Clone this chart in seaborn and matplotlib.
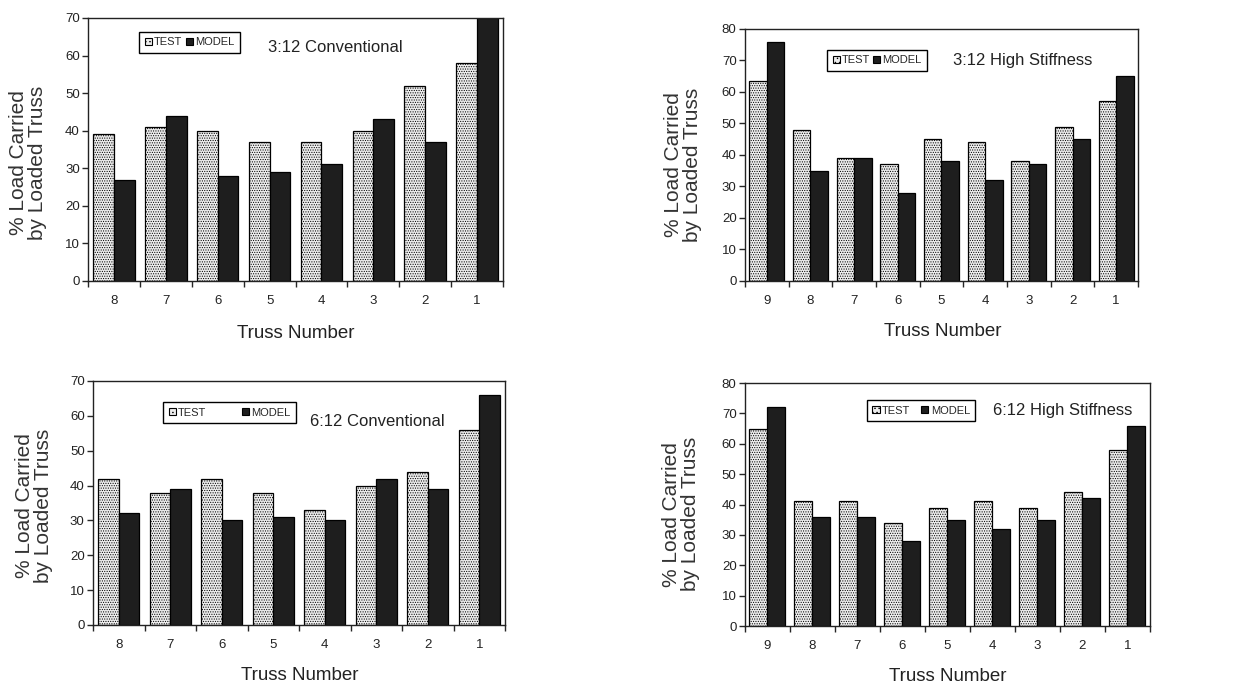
import numpy as np
import pandas as pd
import matplotlib
matplotlib.use("Agg")
import matplotlib.pyplot as plt
from matplotlib.patches import Patch
import seaborn as sns

# ---------------- data ----------------
trusses_8 = ["8", "7", "6", "5", "4", "3", "2", "1"]
trusses_9 = ["9", "8", "7", "6", "5", "4", "3", "2", "1"]

c312_test = [39, 41, 40, 37, 37, 40, 52, 58]
c312_model = [27, 44, 28, 29, 31, 43, 37, 70]

h312_test = [63.5, 48, 39, 37, 45, 44, 38, 49, 57]
h312_model = [76, 35, 39, 28, 38, 32, 37, 45, 65]

c612_test = [42, 38, 42, 38, 33, 40, 44, 56]
c612_model = [32, 39, 30, 31, 30, 42, 39, 66]

h612_test = [65, 41, 41, 34, 39, 41, 39, 44, 58]
h612_model = [72, 36, 36, 28, 35, 32, 35, 42, 66]

series_names = ["TEST", "MODEL"]
panel_titles = ["3:12 Conventional", "3:12 High Stiffness",
                "6:12 Conventional", "6:12 High Stiffness"]
y_maxes = [70, 80, 70, 80]
x_label = "Truss Number"
y_label = "% Load Carried\nby Loaded Truss"

sns.set_style("ticks")
plt.rcParams["font.family"] = ["Liberation Sans", "DejaVu Sans"]
plt.rcParams["hatch.linewidth"] = 0.5

TEST_FACE = "#ececec"
MODEL_FACE = "#1e1e1e"
HATCH_COL = "#a8a8a8"

fig = plt.figure(figsize=(12.47, 6.85), dpi=100)

panels = [
    dict(cats=trusses_8, test=c312_test, model=c312_model,
         rect=[0.0706, 0.5898, 0.3328, 0.384],
         leg=(0.123, 0.947), colsp=0.3, txt=(0.434, 0.886),
         ylc=(-0.099, 0.45), xlc=(0.5, -0.167)),
    dict(cats=trusses_9, test=h312_test, model=h312_model,
         rect=[0.5974, 0.5898, 0.3152, 0.3679],
         leg=(0.209, 0.917), colsp=0.2, txt=(0.529, 0.873),
         ylc=(-0.109, 0.46), xlc=(0.504, -0.167)),
    dict(cats=trusses_8, test=c612_test, model=c612_model,
         rect=[0.0746, 0.0876, 0.3304, 0.3562],
         leg=(0.170, 0.914), colsp=3.2, txt=(0.527, 0.836),
         ylc=(-0.097, 0.488), xlc=(0.502, -0.172)),
    dict(cats=trusses_9, test=h612_test, model=h612_model,
         rect=[0.5974, 0.0861, 0.3248, 0.3547],
         leg=(0.301, 0.930), colsp=1.0, txt=(0.612, 0.889),
         ylc=(-0.111, 0.46), xlc=(0.50, -0.173)),
]

for i, p in enumerate(panels):
    ax = fig.add_axes(p["rect"])
    n = len(p["cats"])
    df = pd.DataFrame({
        "truss": p["cats"] * 2,
        "value": list(p["test"]) + list(p["model"]),
        "series": [series_names[0]] * n + [series_names[1]] * n,
    })
    sns.barplot(data=df, x="truss", y="value", hue="series",
                order=p["cats"], hue_order=series_names,
                palette=[TEST_FACE, MODEL_FACE], width=0.8,
                edgecolor="black", linewidth=0.9, legend=False,
                saturation=1, ax=ax)
    for bar in ax.containers[0]:
        bar.set_hatch(".......")
        try:
            bar.set_hatchcolor(HATCH_COL)
        except Exception:
            pass
    ax.set_xlim(-0.5, n - 0.5)
    ax.set_ylim(0, y_maxes[i])
    ax.set_yticks(np.arange(0, y_maxes[i] + 1, 10))
    ax.set_xticks(np.arange(n))
    ax.set_xticks(np.arange(n + 1) - 0.5, minor=True)
    ax.tick_params(axis="x", which="major", length=0, pad=10)
    ax.tick_params(axis="x", which="minor", length=4, width=1, direction="out")
    ax.tick_params(axis="y", length=4, width=1, direction="out", pad=2)
    for lab in ax.get_xticklabels() + ax.get_yticklabels():
        lab.set_fontsize(9.5)
        lab.set_color("#222222")
    for s in ax.spines.values():
        s.set_visible(True)
        s.set_linewidth(1.0)
        s.set_color("#222222")

    ax.set_xlabel(x_label, fontsize=13.5, va="top", color="#222222")
    ax.xaxis.set_label_coords(*p["xlc"])
    ax.set_ylabel(y_label, fontsize=15, color="#333333", linespacing=1.0)
    ax.yaxis.set_label_coords(*p["ylc"])

    ax.text(p["txt"][0], p["txt"][1], panel_titles[i], transform=ax.transAxes,
            fontsize=12, va="center", ha="left", color="#222222")

    h_test = Patch(facecolor=TEST_FACE, edgecolor="black", hatch="....",
                   linewidth=0.8, label=series_names[0])
    try:
        h_test.set_hatchcolor(HATCH_COL)
    except Exception:
        pass
    h_model = Patch(facecolor=MODEL_FACE, edgecolor="black",
                    linewidth=0.8, label=series_names[1])
    leg = ax.legend(handles=[h_test, h_model], ncol=2, loc="upper left",
                    bbox_to_anchor=p["leg"], borderaxespad=0,
                    fancybox=False, framealpha=1, edgecolor="black",
                    handlelength=0.65, handleheight=0.65, handletextpad=0.2,
                    columnspacing=p["colsp"], borderpad=0.5,
                    prop={"size": 8})
    leg.get_frame().set_linewidth(1.0)

fig.savefig("out.png", dpi=100, facecolor="white")
